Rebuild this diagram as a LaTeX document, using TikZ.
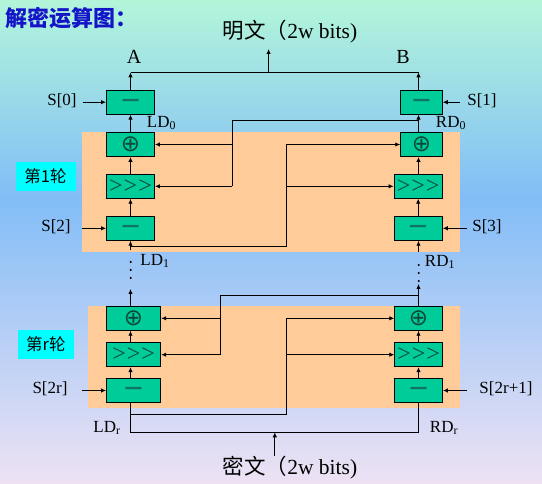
\documentclass[tikz,border=0pt]{standalone}
\usepackage{fontspec}
\setmainfont{Liberation Serif}
\newfontfamily\cjk{Noto Sans CJK SC}
\newfontfamily\djv{DejaVu Sans}
\newfontfamily\rotfont[Ligatures=NoCommon]{Liberation Serif}
\usetikzlibrary{arrows.meta}
\definecolor{boxg}{HTML}{00CC99}
\definecolor{symc}{HTML}{0B4A3A}
\definecolor{minc}{HTML}{0F7463}
\definecolor{orng}{HTML}{FFCC99}
\definecolor{mint}{HTML}{B2F6DA}
\definecolor{bluebg}{HTML}{82BDF7}
\definecolor{lav}{HTML}{EEE2F4}
\definecolor{titleblue}{HTML}{1515C8}
\definecolor{cyanbox}{HTML}{00FFFF}
\newcommand\xorsym{{\color{symc}\djv\fontsize{23}{23}\selectfont ⊕}}
\newcommand\rotsym{{\color{symc}\rotfont\fontsize{24}{24}\selectfont >\kern1pt>\kern1pt>}}
\newcommand\minsym{{\color{minc}\djv\bfseries\fontsize{18}{18}\selectfont —}}
\begin{document}
\begin{tikzpicture}[x=1pt,y=-1pt,
  opbox/.style={draw=black, line width=0.9pt, fill=boxg, inner sep=0pt, minimum height=24pt},
  arr/.style={-{Latex[length=5pt,width=4.5pt]}, line width=0.9pt},
  wire/.style={line width=0.9pt},
  lab/.style={font=\fontsize{17}{17}\selectfont, inner sep=2pt},
  big/.style={font=\fontsize{21.5}{21.5}\selectfont, inner sep=0pt},
  roundlab/.style={fill=cyanbox, inner sep=0pt, font=\cjk\fontsize{16.5}{16.5}\selectfont},
  dotc/.style={fill=black, draw=none}]
\useasboundingbox (0,0) rectangle (542,484);
\shade[top color=mint, bottom color=bluebg] (0,0) rectangle (542,198);
\shade[top color=bluebg, bottom color=lav] (0,197) rectangle (542,484);
% orange round areas
\fill[orng] (82,132) rectangle (460,251.7);
\fill[orng] (88,306) rectangle (460,407.7);
% title and texts
\node[anchor=west, inner sep=0pt, text=titleblue, font=\cjk\bfseries\fontsize{22}{22}\selectfont] (title) at (5,18) {解密运算图：};
\node[big] (plain) at (290,32) {{\cjk 明文（}2w bits)};
\node[big] (cipher) at (290,468) {{\cjk 密文（}2w bits)};
\node[inner sep=0pt, font=\fontsize{20}{20}\selectfont] (A) at (134,57) {A};
\node[inner sep=0pt, font=\fontsize{20}{20}\selectfont] (B) at (403,57) {B};
\node[roundlab, minimum width=60pt, minimum height=28.7pt] (r1lab) at (45.5,176.3) {第1轮};
\node[roundlab, minimum width=55.6pt, minimum height=29pt] (rrlab) at (45.8,344.5) {第r轮};
% column coordinates
\coordinate (colL) at (130.5,0);
\coordinate (colR) at (418.5,0);
% output boxes
\node[opbox, minimum width=48pt] (m0L) at (130.5,102.2) {\minsym};
\node[opbox, minimum width=41.6pt] (m0R) at (421.5,102.2) {\minsym};
% round 1
\node[opbox, minimum width=48pt] (x1L) at (130.5,144.5) {\xorsym};
\node[opbox, minimum width=48pt] (r1L) at (130.5,186.3) {\rotsym};
\node[opbox, minimum width=48pt] (s1L) at (130.5,228.3) {\minsym};
\node[opbox, minimum width=41.6pt] (x1R) at (421.5,144.5) {\xorsym};
\node[opbox, minimum width=48.3pt] (r1R) at (418.2,186.3) {\rotsym};
\node[opbox, minimum width=48.3pt] (s1R) at (418.2,228.3) {\minsym};
% round r
\node[opbox, minimum width=54.2pt] (xrL) at (133.6,318.3) {\xorsym};
\node[opbox, minimum width=54.2pt] (rrL) at (133.6,354.7) {\rotsym};
\node[opbox, minimum width=54.2pt] (srL) at (133.6,390.5) {\minsym};
\node[opbox, minimum width=47.8pt] (xrR) at (418.6,318.3) {\xorsym};
\node[opbox, minimum width=47.8pt] (rrR) at (418.6,354.7) {\rotsym};
\node[opbox, minimum width=47.8pt] (srR) at (418.6,390.5) {\minsym};
% key labels
\node[lab] (S0) at (62,101) {S[0]};
\node[lab] (S1) at (482,101) {S[1]};
\node[lab] (S2) at (56,227) {S[2]};
\node[lab] (S3) at (487,227) {S[3]};
\node[lab] (S2r) at (50,389) {S[2r]};
\node[lab] (S2r1) at (506,389) {S[2r+1]};
% data labels
\node[lab] (LD0) at (161.5,123) {LD\textsubscript{0}};
\node[lab] (RD0) at (451,123) {RD\textsubscript{0}};
\node[lab] (LD1) at (155,261) {LD\textsubscript{1}};
\node[lab] (RD1) at (440,262) {RD\textsubscript{1}};
\node[lab] (LDr) at (107,428) {LD\textsubscript{r}};
\node[lab] (RDr) at (444,428) {RD\textsubscript{r}};
% key arrows
\draw[arr] (83,102.2) coordinate (k0) -- (m0L.west);
\draw[arr] (460,102.2) coordinate (k1) -- (m0R.east);
\draw[arr] (82,228.3) coordinate (k2) -- (s1L.west);
\draw[arr] (466.6,228.3) coordinate (k3) -- (s1R.east);
\draw[arr] (82,390.5) coordinate (k4) -- (srL.west);
\draw[arr] (466.6,390.5) coordinate (k5) -- (srR.east);
% top output merge
\coordinate (topL) at (130.5,72.3);
\coordinate (topR) at (418.5,72.3);
\coordinate (topM) at (268.6,72.3);
\coordinate (topArr) at (268.6,49);
\draw[arr] (m0L.north) -- (topL);
\draw[arr] (m0R.north -| colR) -- (topR);
\draw[wire] (topL) -- (topR);
\draw[arr] (topM) -- (topArr);
% round 1 vertical flow
\draw[arr] (s1L) -- (r1L);
\draw[arr] (r1L) -- (x1L);
\draw[arr] (x1L) -- (m0L);
\draw[arr] (s1R) -- (r1R);
\draw[arr] (r1R.north -| colR) -- (x1R.south -| colR);
\draw[arr] (x1R.north -| colR) -- (m0R.south -| colR);
% RD0 feeds left half
\coordinate (j1) at (418.5,120.7);
\coordinate (c1) at (232.3,120.7);
\draw[wire] (j1) -- (c1) -- (c1 |- r1L);
\draw[arr] (c1 |- x1L) -- (x1L.east);
\draw[arr] (c1 |- r1L) -- (r1L.east);
% LD1 feeds right half
\coordinate (d1) at (130.5,246);
\coordinate (e1) at (286.2,144.5);
\draw[wire] (d1) -| (e1);
\draw[arr] (e1) -- (x1R.west);
\draw[arr] (e1 |- r1R) -- (r1R.west);
% inputs to round 1 from below
\coordinate (lb1) at (130.5,250.5);
\coordinate (rb1) at (418.5,252);
\draw[arr] (lb1) -- (s1L.south);
\draw[arr] (rb1) -- (s1R.south -| colR);
% dots
\foreach \yy in {262,270,278} \fill[dotc] (130.7,\yy) circle (1.2pt);
\foreach \yy in {265,273,281} \fill[dotc] (418.7,\yy) circle (1.2pt);
% round r outputs
\coordinate (upL) at (130.5,289);
\coordinate (upR) at (418.5,284);
\draw[arr] (xrL.north -| colL) -- (upL);
\draw[arr] (xrR.north -| colR) -- (upR);
% RD(r-1) wire feeds left half of round r
\coordinate (jr) at (418.5,295);
\coordinate (cr) at (220.2,295);
\draw[wire] (jr) -- (cr) -- (cr |- rrL);
\draw[arr] (cr |- xrL) -- (xrL.east);
\draw[arr] (cr |- rrL) -- (rrL.east);
% LDr wire feeds right half of round r
\coordinate (dr) at (130.5,414.3);
\coordinate (er) at (286.2,318.3);
\draw[wire] (dr) -| (er);
\draw[arr] (er) -- (xrR.west);
\draw[arr] (er |- rrR) -- (rrR.west);
% round r vertical flow
\draw[arr] (srL.north -| colL) -- (rrL.south -| colL);
\draw[arr] (rrL.north -| colL) -- (xrL.south -| colL);
\draw[arr] (srR.north -| colR) -- (rrR.south -| colR);
\draw[arr] (rrR.north -| colR) -- (xrR.south -| colR);
% ciphertext input
\coordinate (bl) at (130.5,432.3);
\coordinate (br) at (418.5,432.3);
\coordinate (bm) at (274.8,432.3);
\coordinate (bin) at (274.8,456);
\draw[wire] (srL.south -| colL) -- (bl) -- (br) -- (srR.south -| colR);
\draw[arr] (bin) -- (bm);
\end{tikzpicture}
\end{document}
